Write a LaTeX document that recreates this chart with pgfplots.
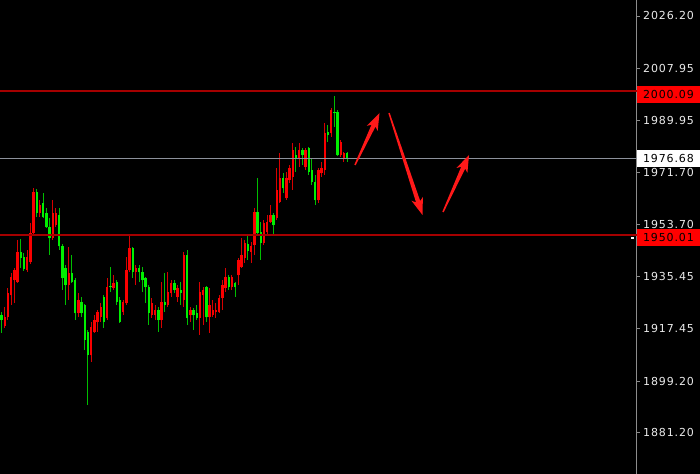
\documentclass[border=0pt]{standalone}
\usepackage{fontspec}
\usepackage{pgfplots}
\usepackage{pgfplotstable}
\pgfplotsset{compat=1.18}
\usetikzlibrary{calc}
\newfontfamily\labfam{DejaVu Sans}[LetterSpace=8]
\newcommand\labfont{\labfam\fontsize{11bp}{12bp}\selectfont}
\definecolor{upred}{RGB}{250,0,0}
\definecolor{wickred}{RGB}{215,0,0}
\definecolor{dngreen}{RGB}{0,240,0}
\definecolor{wickgreen}{RGB}{0,190,0}
\definecolor{lvlred}{RGB}{165,0,0}
\definecolor{lvlgray}{RGB}{140,145,155}
\definecolor{axisgray}{RGB}{140,140,140}
\definecolor{labwhite}{RGB}{235,235,235}
\definecolor{boxred}{RGB}{255,0,0}
\definecolor{arrred}{RGB}{255,25,25}

% x = candle index, o h l c = open high low close
\pgfplotstableread{
x o h l c
1 1918.36 1924.97 1917.66 1921.49
2 1921.49 1931.57 1920.44 1929.83
3 1929.14 1936.79 1925.66 1935.40
4 1934.36 1938.53 1926.36 1937.83
5 1933.66 1948.27 1933.31 1944.09
8 1937.83 1944.79 1937.14 1942.36
9 1940.62 1954.18 1939.90 1950.70
10 1950.70 1966.35 1950.01 1964.96
12 1957.66 1962.18 1956.27 1960.44
16 1948.96 1962.18 1948.27 1957.66
17 1953.48 1959.40 1952.79 1957.66
21 1932.62 1945.83 1927.40 1936.79
24 1922.88 1929.83 1921.49 1927.40
28 1908.27 1919.75 1905.84 1918.01
29 1916.27 1922.18 1915.92 1920.44
30 1919.75 1923.92 1916.27 1923.23
31 1921.49 1926.36 1919.75 1924.97
33 1921.14 1935.05 1920.44 1931.92
35 1931.57 1936.09 1930.88 1933.31
38 1923.23 1927.40 1922.18 1926.70
39 1926.36 1942.36 1925.66 1937.83
40 1937.83 1950.50 1937.14 1945.49
42 1937.14 1939.57 1932.62 1938.53
47 1922.18 1928.10 1921.14 1926.36
48 1922.18 1925.66 1920.44 1923.92
50 1920.44 1933.66 1917.66 1926.70
52 1925.66 1937.14 1924.97 1930.18
53 1929.83 1934.36 1928.44 1933.31
55 1928.44 1932.62 1926.70 1931.57
57 1927.40 1944.09 1924.97 1943.05
59 1922.18 1924.97 1919.75 1923.92
62 1921.14 1933.66 1915.23 1930.18
63 1929.14 1931.92 1918.70 1930.88
65 1921.49 1931.57 1915.92 1925.66
66 1922.18 1927.40 1921.49 1923.92
67 1923.23 1926.36 1921.14 1923.92
68 1923.23 1929.14 1922.88 1928.10
69 1928.10 1934.36 1923.92 1932.62
70 1931.57 1938.53 1930.18 1935.40
72 1931.92 1936.09 1930.88 1935.40
74 1936.09 1942.01 1932.62 1941.31
75 1938.88 1948.96 1938.53 1943.05
76 1942.01 1948.27 1940.27 1947.22
78 1944.09 1947.57 1940.27 1946.18
79 1946.53 1959.40 1943.05 1958.01
82 1947.22 1955.22 1946.53 1954.18
83 1951.05 1956.96 1950.01 1954.53
84 1954.53 1960.44 1954.18 1956.96
86 1955.92 1973.31 1955.22 1965.66
87 1961.48 1978.53 1961.14 1969.83
89 1962.88 1971.92 1962.18 1969.83
90 1969.14 1974.35 1968.09 1973.31
91 1970.18 1982.00 1965.66 1979.57
93 1976.79 1982.00 1973.66 1979.57
95 1973.66 1980.27 1972.61 1979.57
99 1962.18 1973.31 1961.14 1972.61
100 1971.57 1975.40 1970.18 1973.31
101 1972.61 1988.96 1970.87 1985.48
103 1985.48 1994.18 1984.09 1993.48
106 1977.83 1983.00 1977.14 1982.35
107 1976.79 1978.87 1975.40 1978.53
}\redtab

\pgfplotstableread{
x o h l c
0 1922.18 1923.23 1915.92 1920.44
6 1944.09 1948.62 1938.53 1942.01
7 1942.36 1943.75 1937.49 1938.18
11 1964.96 1966.01 1956.27 1957.66
13 1961.14 1964.61 1955.92 1956.27
14 1957.66 1959.40 1952.44 1952.79
15 1952.79 1955.92 1943.05 1948.96
18 1956.96 1959.40 1944.79 1946.18
19 1946.18 1946.88 1930.88 1935.05
20 1938.53 1939.57 1925.66 1932.62
22 1936.79 1943.05 1933.31 1933.66
23 1934.36 1935.05 1920.44 1922.88
25 1926.70 1928.44 1921.49 1922.88
26 1925.66 1925.90 1910.01 1913.49
27 1916.27 1916.97 1890.88 1908.27
32 1928.44 1929.14 1917.66 1919.75
34 1932.27 1938.88 1930.18 1931.92
36 1933.66 1934.36 1925.66 1926.70
37 1927.40 1928.44 1919.40 1919.75
41 1945.49 1945.83 1935.05 1937.14
43 1938.53 1939.57 1933.66 1937.14
44 1937.14 1938.88 1930.18 1934.36
45 1935.05 1935.40 1926.36 1931.92
46 1931.92 1932.62 1918.70 1922.88
49 1923.92 1924.97 1916.27 1920.44
51 1926.70 1936.79 1923.23 1925.66
54 1933.31 1934.36 1929.83 1930.88
56 1930.88 1933.66 1925.66 1929.83
58 1943.05 1944.79 1918.70 1921.14
60 1923.92 1924.62 1916.97 1922.18
61 1922.88 1925.66 1920.44 1921.14
64 1931.92 1932.27 1919.75 1921.49
71 1935.40 1936.09 1930.88 1931.92
73 1933.31 1933.66 1928.44 1931.92
77 1946.88 1950.01 1941.31 1944.44
80 1958.01 1969.83 1950.01 1950.70
81 1951.05 1954.53 1941.31 1947.22
85 1956.96 1957.66 1950.01 1953.48
88 1969.83 1971.57 1964.61 1966.35
92 1977.83 1980.61 1971.92 1976.79
94 1979.57 1980.27 1974.35 1977.83
96 1980.27 1980.61 1970.87 1971.92
97 1972.61 1976.79 1967.40 1968.44
98 1968.44 1970.87 1960.44 1962.18
102 1985.83 1988.26 1982.35 1984.79
104 1992.79 1998.35 1987.57 1992.44
105 1992.79 1993.48 1977.50 1977.83
108 1978.53 1978.87 1975.40 1976.79
}\greentab

\newcommand\tarrow[2]{%
  \coordinate (T) at #1; \coordinate (P) at #2;
  \coordinate (B) at ($(P)!14bp!(T)$);
  \coordinate (Bb) at ($(P)!17bp!(T)$);
  \fill[arrred] ($(T)!0.7bp!90:(P)$) -- ($(B)!2.2bp!90:(P)$) -- ($(Bb)!6bp!90:(P)$) -- (P)
    -- ($(Bb)!6bp!-90:(P)$) -- ($(B)!2.2bp!-90:(P)$) -- ($(T)!0.7bp!-90:(P)$) -- cycle;}

\begin{document}
\begin{tikzpicture}
\useasboundingbox (0,0) rectangle (700bp,474bp);
\fill[black] (0,0) rectangle (700bp,474bp);
\begin{axis}[
  at={(0,0)}, anchor=south west,
  scale only axis, width=636.5bp, height=474bp,
  xmin=-0.47, xmax=198.44,
  ymin=1866.87, ymax=2031.74,
  hide x axis,
  axis y line*=right,
  y axis line style={draw=axisgray, line width=1bp},
  ytick={2026.20,2007.95,1989.95,1971.70,1953.70,1935.45,1917.45,1899.20,1881.20},
  yticklabels={2026.20,2007.95,1989.95,1971.70,1953.70,1935.45,1917.45,1899.20,1881.20},
  ytick style={draw=axisgray, line width=0.8bp},
  tick align=outside, major tick length=3bp,
  yticklabel style={font=\labfont, text=labwhite, anchor=west, inner sep=0pt, xshift=3.5bp},
  clip=false,
]
% wicks: vertical segments from low to high
\addplot[forget plot, draw=wickred, line width=1bp, -, quiver={u=0, v=\thisrow{h}-\thisrow{l}}]
  table[x=x, y=l] {\redtab};
\addplot[forget plot, draw=wickgreen, line width=1bp, -, quiver={u=0, v=\thisrow{h}-\thisrow{l}}]
  table[x=x, y=l] {\greentab};
% bodies: thick segments from open to close
\addplot[forget plot, draw=upred, line width=2.4bp, -, quiver={u=0, v={abs(\thisrow{c}-\thisrow{o})+0.24}}]
  table[x=x, y expr={min(\thisrow{o},\thisrow{c})-0.12}] {\redtab};
\addplot[forget plot, draw=dngreen, line width=2.4bp, -, quiver={u=0, v={abs(\thisrow{c}-\thisrow{o})+0.24}}]
  table[x=x, y expr={min(\thisrow{o},\thisrow{c})-0.12}] {\greentab};
% level lines
\addplot[lvlred, line width=1.6bp, forget plot] coordinates {(-0.47,2000.09) (198.44,2000.09)};
\addplot[lvlred, line width=1.6bp, forget plot] coordinates {(-0.47,1950.01) (198.44,1950.01)};
\addplot[lvlgray, line width=1.5bp, forget plot] coordinates {(-0.47,1976.68) (198.44,1976.68)};
\coordinate (L1) at (axis cs:198.44,2000.09);
\coordinate (L2) at (axis cs:198.44,1976.68);
\coordinate (L3) at (axis cs:198.44,1950.01);
\end{axis}
\node[fill=boxred, text=black, font=\labfont, anchor=west, minimum width=63.5bp, minimum height=17bp, inner sep=0pt, yshift=-3.5bp] at (L1) {2000.09};
\node[fill=white, text=black, font=\labfont, anchor=west, minimum width=63.5bp, minimum height=17bp, inner sep=0pt] at (L2) {1976.68};
\node[fill=boxred, text=black, font=\labfont, anchor=west, minimum width=63.5bp, minimum height=17bp, inner sep=0pt, yshift=-3bp] at (L3) {1950.01};
\begin{scope}[x=1bp, y=-1bp, yshift=474bp]
  \fill[white] (631,237) rectangle (633.5,239.5);
  \tarrow{(355,165)}{(379.5,113)}
  \tarrow{(389,113)}{(422.5,215)}
  \tarrow{(443,212)}{(469,155)}
\end{scope}
\end{tikzpicture}
\end{document}
